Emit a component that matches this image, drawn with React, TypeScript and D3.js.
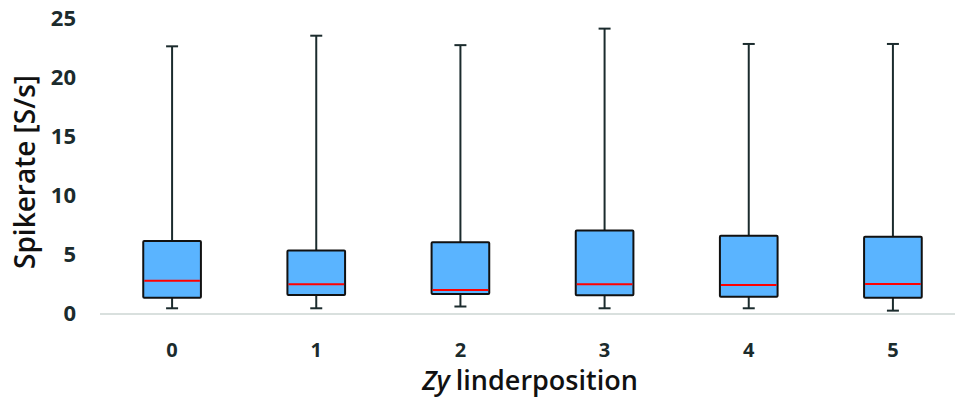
import React from "react";
import * as d3 from "d3";

const categories = ["0", "1", "2", "3", "4", "5"];
const whiskerLow = [0.4, 0.4, 0.55, 0.4, 0.4, 0.2];
const q1 = [1.3, 1.53, 1.6, 1.5, 1.38, 1.3];
const median = [2.74, 2.43, 1.95, 2.43, 2.37, 2.46];
const q3 = [6.1, 5.3, 6.0, 7.0, 6.55, 6.47];
const whiskerHigh = [22.6, 23.5, 22.7, 24.1, 22.8, 22.8];
const yTicks = [0, 5, 10, 15, 20, 25];

const W = 955;
const H = 398;

export default function App() {
  const x = d3.scaleBand<string>().domain(categories).range([100, 965]).paddingInner(0).paddingOuter(0);
  const y = d3.scaleLinear().domain([0, 25]).range([313, 18]);
  const bw = x.bandwidth() * 0.4;
  const font = "'Open Sans', sans-serif";
  return (
    <svg width={W} height={H} style={{ position: "absolute", left: 0, top: 0, background: "#fff" }}>
      <line x1={100} x2={955} y1={y(0) + 1} y2={y(0) + 1} stroke="#d9e0de" strokeWidth={2} />
      {yTicks.map((t) => (
        <text key={t} x={76} y={y(t)} dy="0.36em" textAnchor="end" fontFamily={font} fontWeight={700} fontSize={22} fill="#1b2b2d">
          {t}
        </text>
      ))}
      {categories.map((c, i) => {
        const cx = (x(c) as number) + x.bandwidth() / 2;
        return (
          <g key={c}>
            <line x1={cx} x2={cx} y1={y(whiskerHigh[i])} y2={y(q3[i])} stroke="#1b2b2d" strokeWidth={2} />
            <line x1={cx} x2={cx} y1={y(q1[i])} y2={y(whiskerLow[i])} stroke="#1b2b2d" strokeWidth={2} />
            <line x1={cx - 6} x2={cx + 6} y1={y(whiskerHigh[i])} y2={y(whiskerHigh[i])} stroke="#1b2b2d" strokeWidth={2} />
            <line x1={cx - 6} x2={cx + 6} y1={y(whiskerLow[i])} y2={y(whiskerLow[i])} stroke="#1b2b2d" strokeWidth={2} />
            <rect x={cx - bw / 2} y={y(q3[i])} width={bw} height={y(q1[i]) - y(q3[i])} fill="#5ab4ff" stroke="#111" strokeWidth={2} rx={1} />
            <line x1={cx - bw / 2 + 1} x2={cx + bw / 2 - 1} y1={y(median[i])} y2={y(median[i])} stroke="#ff0000" strokeWidth={2} />
            <text x={cx} y={350} dy="0.36em" textAnchor="middle" fontFamily={font} fontWeight={700} fontSize={20} fill="#1b2b2d">
              {c}
            </text>
          </g>
        );
      })}
      <text x={530} y={390} textAnchor="middle" fontFamily={font} fontWeight={600} fontSize={27} fill="#111">
        <tspan fontStyle="italic">Zy</tspan>
        <tspan dx={6}>linderposition</tspan>
      </text>
      <text transform="translate(35,172) rotate(-90)" textAnchor="middle" fontFamily={font} fontWeight={600} fontSize={28} fill="#111">
        Spikerate [S/s]
      </text>
    </svg>
  );
}
